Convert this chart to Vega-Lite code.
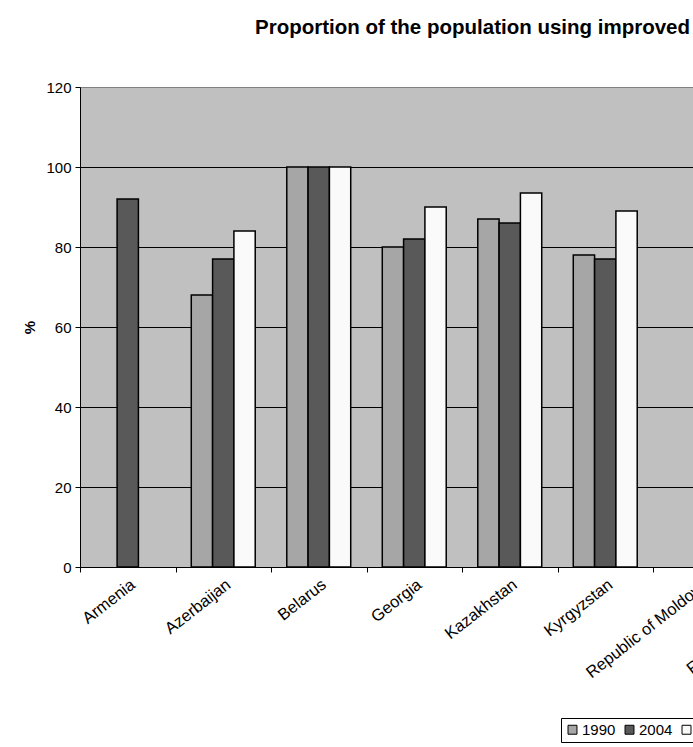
{
  "$schema": "https://vega.github.io/schema/vega-lite/v6.json",
  "autosize": {"type": "none"},
  "width": 613,
  "height": 480,
  "padding": {"left": 80, "top": 87, "right": 0, "bottom": 180},
  "background": "white",
  "title": {
    "text": "Proportion of the population using improved drinking water sources",
    "anchor": "start",
    "frame": "group",
    "dx": 175,
    "offset": 42,
    "font": "Liberation Sans",
    "fontSize": 20.5,
    "fontWeight": "bold",
    "color": "black"
  },
  "data": {
    "values": [
      {"country": "Armenia", "series": "1990", "value": null},
      {"country": "Armenia", "series": "2004", "value": 92},
      {"country": "Armenia", "series": "2015 target", "value": null},
      {"country": "Azerbaijan", "series": "1990", "value": 68},
      {"country": "Azerbaijan", "series": "2004", "value": 77},
      {"country": "Azerbaijan", "series": "2015 target", "value": 84},
      {"country": "Belarus", "series": "1990", "value": 100},
      {"country": "Belarus", "series": "2004", "value": 100},
      {"country": "Belarus", "series": "2015 target", "value": 100},
      {"country": "Georgia", "series": "1990", "value": 80},
      {"country": "Georgia", "series": "2004", "value": 82},
      {"country": "Georgia", "series": "2015 target", "value": 90},
      {"country": "Kazakhstan", "series": "1990", "value": 87},
      {"country": "Kazakhstan", "series": "2004", "value": 86},
      {"country": "Kazakhstan", "series": "2015 target", "value": 93.5},
      {"country": "Kyrgyzstan", "series": "1990", "value": 78},
      {"country": "Kyrgyzstan", "series": "2004", "value": 77},
      {"country": "Kyrgyzstan", "series": "2015 target", "value": 89},
      {"country": "Republic of Moldova", "series": "1990", "value": null},
      {"country": "Russian Federation", "series": "1990", "value": null}
    ]
  },
  "mark": {"type": "bar", "stroke": "black", "strokeWidth": 1.5, "clip": true},
  "encoding": {
    "x": {
      "field": "country",
      "type": "nominal",
      "sort": null,
      "scale": {
        "domain": ["Armenia", "Azerbaijan", "Belarus", "Georgia", "Kazakhstan", "Kyrgyzstan", "Republic of Moldova", "Russian Federation", "Tajikistan", "Turkmenistan", "Ukraine", "Uzbekistan"],
        "range": [0, 1146],
        "paddingInner": 0,
        "paddingOuter": 0
      },
      "axis": {
        "title": null,
        "labelAngle": -38,
        "labelAlign": "right",
        "labelBaseline": "top",
        "labelFont": "Liberation Sans",
        "labelFontSize": 16.5,
        "labelColor": "black",
        "labelPadding": 4,
        "tickBand": "extent",
        "tickSize": 5,
        "tickColor": "black",
        "domainColor": "black",
        "labelOverlap": false,
        "labelBound": false
      }
    },
    "xOffset": {
      "field": "series",
      "type": "nominal",
      "scale": {"domain": ["1990", "2004", "2015 target"], "paddingInner": 0, "paddingOuter": 0.74}
    },
    "y": {
      "field": "value",
      "type": "quantitative",
      "scale": {"domain": [0, 120]},
      "axis": {
        "title": "%",
        "titleFont": "Liberation Sans",
        "titleFontSize": 15,
        "titleFontWeight": "bold",
        "titleColor": "black",
        "titlePadding": 8,
        "values": [0, 20, 40, 60, 80, 100, 120],
        "labelFont": "Liberation Sans",
        "labelFontSize": 15,
        "labelColor": "black",
        "labelPadding": 4,
        "tickSize": 5,
        "tickColor": "black",
        "domainColor": "black",
        "grid": true,
        "gridColor": {"condition": {"test": "datum.value == 120", "value": "#808080"}, "value": "black"},
        "gridWidth": 1,
        "gridOpacity": 1
      }
    },
    "color": {
      "field": "series",
      "type": "nominal",
      "scale": {"domain": ["1990", "2004", "2015 target"], "range": ["#a6a6a6", "#595959", "#fafafa"]},
      "legend": {
        "title": null,
        "orient": "none",
        "legendX": 481,
        "legendY": 631,
        "direction": "horizontal",
        "symbolType": "square",
        "symbolSize": 80,
        "symbolStrokeColor": "black",
        "symbolStrokeWidth": 1,
        "labelFont": "Liberation Sans",
        "labelFontSize": 15,
        "labelColor": "black",
        "strokeColor": "black",
        "padding": 4,
        "columnPadding": 6,
        "labelOffset": 2
      }
    }
  },
  "config": {
    "view": {"fill": "#c0c0c0", "stroke": "#808080"}
  }
}
